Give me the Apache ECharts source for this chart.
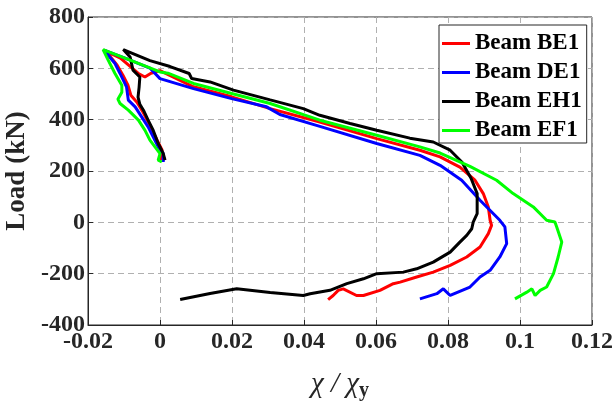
<!DOCTYPE html>
<html>
<head>
<meta charset="utf-8">
<script src="https://cdn.jsdelivr.net/npm/echarts@6/dist/echarts.min.js"></script>
<style>
  html, body { margin: 0; padding: 0; background: #fff; }
  #chart { width: 616px; height: 403px; }
</style>
</head>
<body>
<div id="chart"></div>
<script>
// curvature ratio vs load
const seriesNames = ['Beam BE1', 'Beam DE1', 'Beam EH1', 'Beam EF1'];
const seriesColors = ['#ff0000', '#0000ff', '#000000', '#00ff00'];
const xTicks = [-0.02, 0, 0.02, 0.04, 0.06, 0.08, 0.1, 0.12];
const yTicks = [-400, -200, 0, 200, 400, 600, 800];

const beamBE1 = [
  [0.0003, 242], [0.0006, 281], [-0.0008, 320], [-0.0028, 378], [-0.0047, 429],
  [-0.0064, 468], [-0.0081, 495], [-0.0089, 534], [-0.0103, 573], [-0.0119, 612],
  [-0.0139, 647], [-0.0156, 671], [-0.0110, 640], [-0.0061, 581], [-0.0042, 566],
  [-0.0025, 581], [0, 591], [0.0093, 528], [0.0199, 489], [0.0306, 443],
  [0.0444, 391], [0.0602, 326], [0.0722, 281], [0.0778, 255], [0.0833, 215],
  [0.0875, 164], [0.0898, 112], [0.0912, 60], [0.0917, 8], [0.0921, -12],
  [0.0912, -44], [0.0889, -96], [0.0852, -135], [0.0806, -168], [0.0759, -194],
  [0.0713, -213], [0.0667, -233], [0.0648, -239], [0.0611, -265], [0.0565, -285],
  [0.0546, -285], [0.0509, -259], [0.0495, -265], [0.0481, -285], [0.0467, -301]
];

const beamDE1 = [
  [0.0009, 235], [0.0009, 268], [-0.0005, 294], [-0.0019, 333], [-0.0033, 372],
  [-0.0051, 411], [-0.0069, 450], [-0.0088, 476], [-0.0093, 528], [-0.0111, 580],
  [-0.0125, 619], [-0.0144, 651], [-0.0156, 671], [-0.0097, 640], [-0.0028, 601],
  [0, 560], [0.0093, 521], [0.0199, 482], [0.0296, 450], [0.0333, 420],
  [0.0444, 374], [0.0602, 307], [0.0722, 261], [0.0778, 222], [0.0838, 164],
  [0.0889, 86], [0.0944, 8], [0.0958, -18], [0.0963, -83], [0.0944, -135],
  [0.0917, -187], [0.0889, -213], [0.0861, -252], [0.0806, -285], [0.0787, -259],
  [0.0769, -278], [0.0722, -298]
];

const beamEH1 = [
  [0.0014, 242], [0.0009, 268], [-0.0005, 307], [-0.0019, 359], [-0.0033, 398],
  [-0.0046, 437], [-0.0056, 460], [-0.0061, 488], [-0.0058, 527], [-0.0056, 566],
  [-0.0075, 593], [-0.0083, 644], [-0.0102, 673], [-0.0028, 630], [0.0028, 607],
  [0.0081, 580], [0.0085, 577], [0.0088, 560], [0.0139, 547], [0.0204, 515],
  [0.0306, 477], [0.0398, 443], [0.0444, 417], [0.0528, 385], [0.0602, 359],
  [0.0694, 328], [0.0759, 313], [0.0806, 281], [0.0839, 234], [0.0864, 172],
  [0.0881, 112], [0.0881, 34], [0.0870, 1], [0.0866, -25], [0.0852, -51],
  [0.0833, -77], [0.0806, -116], [0.0759, -155], [0.0713, -181], [0.0676, -194],
  [0.0602, -200], [0.0565, -220], [0.0519, -239], [0.0472, -265], [0.0417, -278],
  [0.0398, -285], [0.0306, -273], [0.0213, -259], [0.0139, -277], [0.0056, -301]
];

const beamEF1 = [
  [0.0005, 235], [-0.0005, 242], [0, 268], [-0.0014, 294], [-0.0028, 320],
  [-0.0042, 359], [-0.0060, 398], [-0.0088, 437], [-0.0111, 463], [-0.0117, 480],
  [-0.0106, 507], [-0.0106, 534], [-0.0125, 580], [-0.0144, 632], [-0.0158, 673],
  [-0.0083, 632], [0, 586], [0.0022, 581], [0.0093, 541], [0.0199, 502],
  [0.0306, 463], [0.0444, 398], [0.0602, 339], [0.0722, 294], [0.0778, 270],
  [0.0861, 218], [0.0935, 164], [0.0981, 112], [0.1037, 60], [0.1074, 8],
  [0.1097, 1], [0.1102, -18], [0.1116, -77], [0.1106, -135], [0.1093, -200],
  [0.1074, -252], [0.1056, -265], [0.1042, -285], [0.1033, -259], [0.1019, -272],
  [0.0986, -298]
];

const allData = [beamBE1, beamDE1, beamEH1, beamEF1];

const font = 'Liberation Serif';
const gridLine = { show: true, lineStyle: { color: '#b0b0b0', type: [6, 4], width: 1 } };

const option = {
  animation: false,
  grid: {
    left: 88, right: 24, top: 17, bottom: 78,
    outerBoundsMode: 'none', containLabel: false,
    show: true, borderColor: '#262626', borderWidth: 1
  },
  legend: {
    orient: 'vertical',
    left: 439, top: 25,
    padding: [7, 5, 1, 3],
    itemGap: 6,
    itemWidth: 28, itemHeight: 3,
    icon: 'rect',
    backgroundColor: '#fff',
    borderColor: '#262626', borderWidth: 1,
    textStyle: { fontFamily: font, fontWeight: 'bold', fontSize: 23, lineHeight: 22, color: '#000' },
    data: seriesNames
  },
  xAxis: {
    type: 'value',
    min: xTicks[0], max: xTicks[xTicks.length - 1], interval: 0.02,
    name: '{x|χ / χ}{s|y}',
    nameLocation: 'middle', nameGap: 42,
    nameTextStyle: {
      rich: {
        x: { fontFamily: font, fontSize: 29, color: '#262626', fontStyle: 'italic' },
        s: { fontFamily: font, fontSize: 20, fontWeight: 'bold', color: '#262626', padding: [14, 0, 0, 0] }
      }
    },
    axisLine: { onZero: false, lineStyle: { color: '#262626' } },
    axisTick: { inside: true, length: 5, lineStyle: { color: '#262626' } },
    splitLine: gridLine,
    axisLabel: {
      fontFamily: font, fontWeight: 'bold', fontSize: 24, color: '#262626', margin: 5,
      formatter: v => String(xTicks.find(t => Math.abs(t - v) < 1e-9) ?? v)
    }
  },
  yAxis: {
    type: 'value',
    min: yTicks[0], max: yTicks[yTicks.length - 1], interval: 200,
    name: 'Load (kN)',
    nameLocation: 'middle', nameGap: 52,
    nameTextStyle: { fontFamily: font, fontWeight: 'bold', fontSize: 27, color: '#262626' },
    axisLine: { onZero: false, lineStyle: { color: '#262626' } },
    axisTick: { inside: true, length: 5, lineStyle: { color: '#262626' } },
    splitLine: gridLine,
    axisLabel: { fontFamily: font, fontWeight: 'bold', fontSize: 24, color: '#262626', margin: 3 }
  },
  series: seriesNames.map((name, i) => ({
    name: name,
    type: 'line',
    data: allData[i],
    showSymbol: false,
    color: seriesColors[i],
    lineStyle: { width: 3, color: seriesColors[i] }
  }))
};

const myChart = echarts.init(document.getElementById('chart'));
myChart.setOption(option);
</script>
</body>
</html>
